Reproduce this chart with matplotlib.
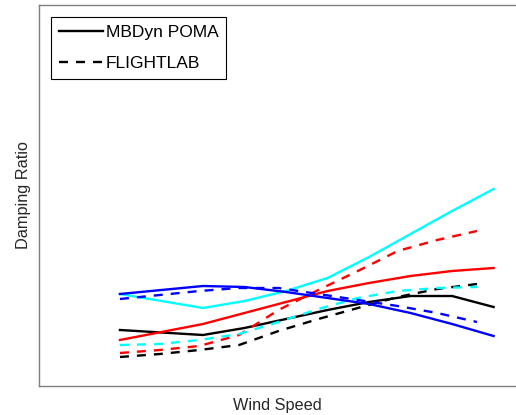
import matplotlib
matplotlib.use('Agg')
import matplotlib.pyplot as plt

plt.rcParams['font.family'] = ['Liberation Sans', 'DejaVu Sans']

# wind speed points (arbitrary units, no ticks shown)
ws_poma = [1, 2, 3, 4, 5, 6, 7, 8, 9, 10]
ws_flt = [1, 1.96, 2.91, 3.87, 4.82, 5.78, 6.73, 7.69, 8.64, 9.6]

# MBDyn POMA (solid)
poma_black = [0.056, 0.0535, 0.051, 0.058, 0.067, 0.076, 0.084, 0.090, 0.090, 0.079]
poma_red = [0.046, 0.054, 0.062, 0.073, 0.084, 0.095, 0.103, 0.110, 0.115, 0.118]
poma_cyan = [0.092, 0.085, 0.078, 0.085, 0.095, 0.108, 0.129, 0.152, 0.175, 0.197]
poma_blue = [0.092, 0.096, 0.100, 0.099, 0.094, 0.088, 0.082, 0.073, 0.062, 0.050]

# FLIGHTLAB (dashed)
flt_black = [0.029, 0.032, 0.036, 0.041, 0.055, 0.067, 0.078, 0.089, 0.097, 0.102]
flt_red = [0.033, 0.036, 0.040, 0.051, 0.076, 0.096, 0.115, 0.135, 0.146, 0.155]
flt_cyan = [0.041, 0.042, 0.046, 0.052, 0.064, 0.077, 0.088, 0.095, 0.098, 0.099]
flt_blue = [0.087, 0.091, 0.095, 0.098, 0.098, 0.092, 0.086, 0.080, 0.073, 0.064]

fig = plt.figure(figsize=(5.16, 4.15), dpi=100)
ax = fig.add_axes([39/516, 29/415, 1 - 39/516, 381/415])

lw = 1.7
dash = (3.8, 3.4)
ax.plot(ws_poma, poma_black, color='k', lw=lw, label='MBDyn POMA')
ax.plot(ws_flt, flt_black, color='k', lw=lw, ls='--', dashes=dash, label='FLIGHTLAB')
ax.plot(ws_poma, poma_red, color='r', lw=lw)
ax.plot(ws_flt, flt_red, color='r', lw=lw, ls='--', dashes=dash)
ax.plot(ws_poma, poma_cyan, color='cyan', lw=lw)
ax.plot(ws_flt, flt_cyan, color='cyan', lw=lw, ls='--', dashes=dash)
ax.plot(ws_poma, poma_blue, color='b', lw=lw)
ax.plot(ws_flt, flt_blue, color='b', lw=lw, ls='--', dashes=dash)

ax.set_xlim(-0.95, 10.54)
ax.set_ylim(0, 0.381)
ax.set_xticks([])
ax.set_yticks([])
for s in ['left', 'top', 'bottom']:
    ax.spines[s].set_color('#7f7f7f')
    ax.spines[s].set_linewidth(1.0)
ax.spines['right'].set_visible(False)

ax.set_xlabel('Wind Speed', fontsize=11.7, color='#262626', labelpad=8.5)
ax.set_ylabel('Damping Ratio', fontsize=11.7, color='#262626', labelpad=6)

leg = ax.legend(loc='upper left', fontsize=12.5, handlelength=2.55, handletextpad=0.17,
                borderpad=0.45, labelspacing=0.95, fancybox=False, framealpha=1,
                borderaxespad=0.68)
leg.get_frame().set_edgecolor('k')
leg.get_frame().set_linewidth(0.8)

fig.savefig('out.png', dpi=100)
